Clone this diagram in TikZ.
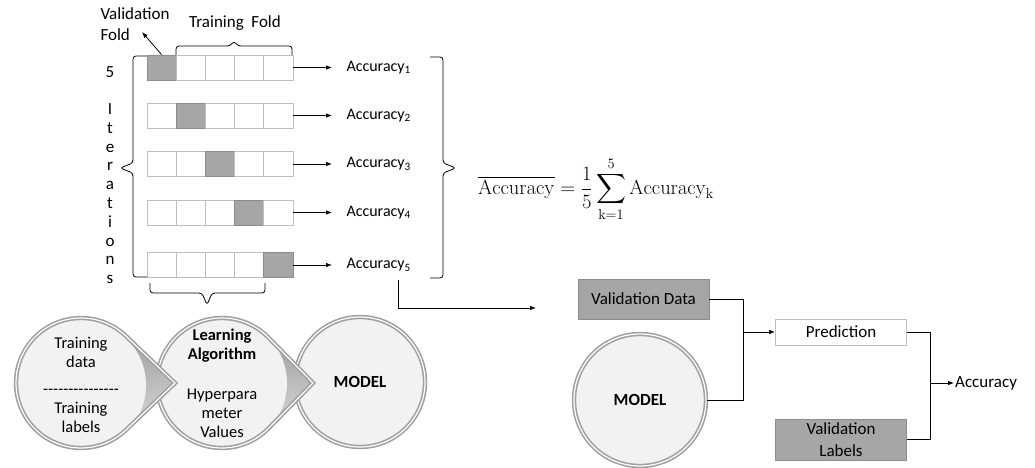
\RequirePackage{fix-cm}
\documentclass[tikz,border=0pt]{standalone}
\usepackage{exscale}
\usepackage[no-math]{fontspec}
\setmainfont{Carlito}
\usetikzlibrary{calc,arrows.meta}

\definecolor{foldgray}{HTML}{A6A6A6}
\definecolor{foldedge}{HTML}{8C8C8C}
\definecolor{celledge}{HTML}{BFBFBF}
\definecolor{diskfill}{HTML}{F2F2F2}
\definecolor{rimgray}{HTML}{A0A0A0}

\newcommand{\dashrow}{\mbox{-}\mbox{-}\mbox{-}\mbox{-}\mbox{-}\mbox{-}\mbox{-}\mbox{-}\mbox{-}\mbox{-}\mbox{-}\mbox{-}\mbox{-}\mbox{-}\mbox{-}}

\begin{document}
\begin{tikzpicture}[x=1pt,y=-1pt,
    every node/.style={font=\fontsize{17}{20}\selectfont},
    cell/.style={draw=celledge, fill=white, line width=0.8pt, minimum width=29.2pt, minimum height=25pt, inner sep=0pt},
    valcell/.style={cell, draw=foldedge, fill=foldgray},
    arr/.style={-{Latex[length=6pt,width=4.5pt]}, line width=0.8pt},
    bracket/.style={line width=0.8pt, rounded corners=3pt},
    rim/.style={draw=rimgray, line width=1.6pt, double=white, double distance=1.2pt},
    disk/.style={circle, fill=diskfill, minimum size=130pt, inner sep=0pt, align=center},
    databox/.style={draw=foldedge, fill=foldgray, line width=0.8pt, minimum width=131pt, align=center}]
    \useasboundingbox (0,0) rectangle (1035,468);

    % Folds and accuracies
    \foreach \y [count=\i] in {67.5,115.5,164,212.5,265} {
        \foreach \j in {1,...,5} {
            \ifnum\i=\j
                \node[valcell] (C\i\j) at ({147+29.2*(\j-0.5)},\y) {};
            \else
                \node[cell] (C\i\j) at ({147+29.2*(\j-0.5)},\y) {};
            \fi
        }
        \node[anchor=west, font=\fontsize{16}{19}\selectfont] (A\i) at (343,\y) {Accuracy\textsubscript{\i}};
        \draw[arr, shorten >=11pt] (C\i5) -- (A\i);
    }

    % Iterations
    \node[anchor=base] (N5) at (110,77.5) {5};
    \foreach \l [count=\k] in {I,t,e,r,a,t,i,o,n,s}
        \node[anchor=base] (L\k) at (110,{114.5+18.8*(\k-1)}) {\l};

    % Fold labels
    \node[align=left, font=\fontsize{17}{21}\selectfont] (VF) at (135,24) {Validation\\Fold};
    \coordinate (VT) at (142,32);
    \draw[arr] (C11.north) -- (VT);
    \node (TF) at (235,23) {Training\ \ Fold};

    % Braces
    \draw[bracket] (176,55) -- (176,46) -- (230,46) -- (234,41) -- (238,46) -- (292,46) -- (292,55);
    \draw[bracket] (147,277) -- (133,277) -- (133,173) -- (120,168) -- (133,163) -- (133,56) -- (147,56);
    \draw[bracket] (150,283) -- (150,293) -- (202,293) -- (207,305) -- (212,293) -- (265,293) -- (265,283);
    \draw[bracket] (430,57) -- (443,57) -- (443,163) -- (456,168) -- (443,173) -- (443,278) -- (430,278);

    % Mean accuracy
    \node[font=\fontsize{20.5}{25}\selectfont] (EQ) at (596,189)
        {$\displaystyle \overline{\mathrm{Accuracy}}=\frac{1}{5}\sum_{\mathrm{k}=1}^{5}\mathrm{Accuracy}_{\mathrm{k}}$};
    \coordinate (S) at (398,280);
    \coordinate (E) at (536,308);
    \draw[arr] (S) |- (E);

    % Training chain
    \node[disk, rim, font=\fontsize{17}{20}\selectfont\bfseries] (D3) at (360,382) {MODEL};

    \coordinate (T2) at (313,383);
    \shade[top color=gray!75, bottom color=gray!30] ($(222,383)+(44.4:65)$) -- (T2) -- ($(222,383)+(-44.4:65)$) -- cycle;
    \node[disk, font=\fontsize{16.5}{19}\selectfont] (D2) at (222,383) {\textbf{Learning}\\\textbf{Algorithm}\\[21pt]Hyperpara\\meter\\Values};
    \draw[rim] ($(D2.center)+(44.4:65)$) -- (T2) -- ($(D2.center)+(-44.4:65)$) arc[start angle=-44.4, end angle=-315.6, radius=65];

    \coordinate (T1) at (175,383);
    \shade[top color=gray!75, bottom color=gray!30] ($(81,383)+(46.25:65)$) -- (T1) -- ($(81,383)+(-46.25:65)$) -- cycle;
    \node[disk, font=\fontsize{16.5}{19}\selectfont] (D1) at (81,385) {Training\\data\\[7.5pt]\dashrow\\Training\\labels};
    \draw[rim] ($(81,383)+(46.25:65)$) -- (T1) -- ($(81,383)+(-46.25:65)$) arc[start angle=-46.25, end angle=-313.75, radius=65];

    % Validation
    \node[databox, minimum height=40pt] (VD) at (643.5,299) {Validation Data};
    \node[disk, rim, minimum size=132pt, font=\fontsize{17}{20}\selectfont\bfseries] (M2) at (640,400) {MODEL};
    \node[draw=celledge, fill=white, line width=0.8pt, minimum width=131pt, minimum height=26pt] (PR) at (841,332) {Prediction};
    \node[databox, minimum height=41pt, font=\fontsize{17}{22}\selectfont] (VL) at (841,439.5) {Validation\\Labels};
    \node[anchor=west, inner xsep=1pt] (AC) at (954,383) {Accuracy};

    \coordinate (J1) at (743,332);
    \coordinate (J2) at (930,383);
    \draw[line width=0.8pt] (VD.east) -| (J1) |- (M2.east);
    \draw[arr] (J1) -- (PR.west);
    \draw[line width=0.8pt] (PR.east) -| (J2) |- (VL.east);
    \draw[arr] (J2) -- (AC.west);
\end{tikzpicture}
\end{document}
